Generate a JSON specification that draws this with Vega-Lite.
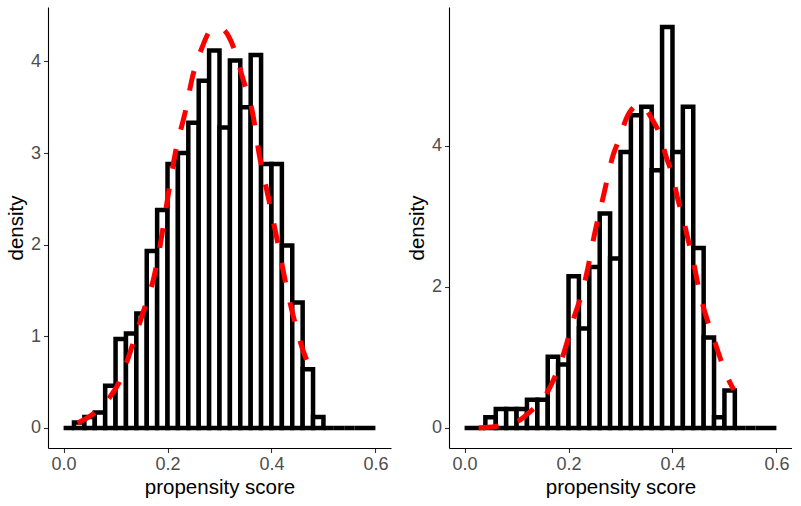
{
  "$schema": "https://vega.github.io/schema/vega-lite/v6.json",
  "padding": {"left": 6, "top": 7, "right": 0, "bottom": 0},
  "background": "white",
  "spacing": 16,
  "config": {
    "view": {"stroke": null},
    "font": "Liberation Sans",
    "axis": {
      "grid": false,
      "domainColor": "black",
      "domainWidth": 1.1,
      "tickColor": "#333333",
      "tickSize": 4.5,
      "tickWidth": 1.1,
      "labelFont": "Liberation Sans",
      "labelFontSize": 18,
      "labelColor": "#4D4D4D",
      "labelPadding": 3,
      "titleFont": "Liberation Sans",
      "titleFontSize": 20.5,
      "titleFontWeight": "normal",
      "titleColor": "black"
    }
  },
  "datasets": {
    "bars": [
      {"panel": "A", "lo": 0.00, "hi": 0.02, "density": 0},
      {"panel": "A", "lo": 0.02, "hi": 0.04, "density": 0.06},
      {"panel": "A", "lo": 0.04, "hi": 0.06, "density": 0.12},
      {"panel": "A", "lo": 0.06, "hi": 0.08, "density": 0.17},
      {"panel": "A", "lo": 0.08, "hi": 0.10, "density": 0.46},
      {"panel": "A", "lo": 0.10, "hi": 0.12, "density": 0.97},
      {"panel": "A", "lo": 0.12, "hi": 0.14, "density": 1.03},
      {"panel": "A", "lo": 0.14, "hi": 0.16, "density": 1.25},
      {"panel": "A", "lo": 0.16, "hi": 0.18, "density": 1.93},
      {"panel": "A", "lo": 0.18, "hi": 0.20, "density": 2.38},
      {"panel": "A", "lo": 0.20, "hi": 0.22, "density": 2.88},
      {"panel": "A", "lo": 0.22, "hi": 0.24, "density": 3.0},
      {"panel": "A", "lo": 0.24, "hi": 0.26, "density": 3.33},
      {"panel": "A", "lo": 0.26, "hi": 0.28, "density": 3.79},
      {"panel": "A", "lo": 0.28, "hi": 0.30, "density": 4.12},
      {"panel": "A", "lo": 0.30, "hi": 0.32, "density": 3.28},
      {"panel": "A", "lo": 0.32, "hi": 0.34, "density": 4.01},
      {"panel": "A", "lo": 0.34, "hi": 0.36, "density": 3.5},
      {"panel": "A", "lo": 0.36, "hi": 0.38, "density": 4.07},
      {"panel": "A", "lo": 0.38, "hi": 0.40, "density": 2.88},
      {"panel": "A", "lo": 0.40, "hi": 0.42, "density": 2.88},
      {"panel": "A", "lo": 0.42, "hi": 0.44, "density": 1.99},
      {"panel": "A", "lo": 0.44, "hi": 0.46, "density": 1.37},
      {"panel": "A", "lo": 0.46, "hi": 0.48, "density": 0.64},
      {"panel": "A", "lo": 0.48, "hi": 0.50, "density": 0.12},
      {"panel": "A", "lo": 0.50, "hi": 0.52, "density": 0},
      {"panel": "A", "lo": 0.52, "hi": 0.54, "density": 0},
      {"panel": "A", "lo": 0.54, "hi": 0.56, "density": 0},
      {"panel": "A", "lo": 0.56, "hi": 0.58, "density": 0},
      {"panel": "A", "lo": 0.58, "hi": 0.60, "density": 0},
      {"panel": "B", "lo": 0.00, "hi": 0.02, "density": 0},
      {"panel": "B", "lo": 0.02, "hi": 0.04, "density": 0},
      {"panel": "B", "lo": 0.04, "hi": 0.06, "density": 0.15},
      {"panel": "B", "lo": 0.06, "hi": 0.08, "density": 0.27},
      {"panel": "B", "lo": 0.08, "hi": 0.10, "density": 0.27},
      {"panel": "B", "lo": 0.10, "hi": 0.12, "density": 0.27},
      {"panel": "B", "lo": 0.12, "hi": 0.14, "density": 0.4},
      {"panel": "B", "lo": 0.14, "hi": 0.16, "density": 0.4},
      {"panel": "B", "lo": 0.16, "hi": 0.18, "density": 1.01},
      {"panel": "B", "lo": 0.18, "hi": 0.20, "density": 0.9},
      {"panel": "B", "lo": 0.20, "hi": 0.22, "density": 2.15},
      {"panel": "B", "lo": 0.22, "hi": 0.24, "density": 1.41},
      {"panel": "B", "lo": 0.24, "hi": 0.26, "density": 2.28},
      {"panel": "B", "lo": 0.26, "hi": 0.28, "density": 3.04},
      {"panel": "B", "lo": 0.28, "hi": 0.30, "density": 2.4},
      {"panel": "B", "lo": 0.30, "hi": 0.32, "density": 3.91},
      {"panel": "B", "lo": 0.32, "hi": 0.34, "density": 4.43},
      {"panel": "B", "lo": 0.34, "hi": 0.36, "density": 4.55},
      {"panel": "B", "lo": 0.36, "hi": 0.38, "density": 3.65},
      {"panel": "B", "lo": 0.38, "hi": 0.40, "density": 5.68},
      {"panel": "B", "lo": 0.40, "hi": 0.42, "density": 3.91},
      {"panel": "B", "lo": 0.42, "hi": 0.44, "density": 4.55},
      {"panel": "B", "lo": 0.44, "hi": 0.46, "density": 2.55},
      {"panel": "B", "lo": 0.46, "hi": 0.48, "density": 1.28},
      {"panel": "B", "lo": 0.48, "hi": 0.50, "density": 0.15},
      {"panel": "B", "lo": 0.50, "hi": 0.52, "density": 0.53},
      {"panel": "B", "lo": 0.52, "hi": 0.54, "density": 0},
      {"panel": "B", "lo": 0.54, "hi": 0.56, "density": 0},
      {"panel": "B", "lo": 0.56, "hi": 0.58, "density": 0},
      {"panel": "B", "lo": 0.58, "hi": 0.60, "density": 0}
    ],
    "curves": [
      {"panel": "A", "x": 0.027, "y": 0.055},
      {"panel": "A", "x": 0.056, "y": 0.15},
      {"panel": "A", "x": 0.088, "y": 0.33},
      {"panel": "A", "x": 0.107, "y": 0.5},
      {"panel": "A", "x": 0.121, "y": 0.71},
      {"panel": "A", "x": 0.139, "y": 1.02},
      {"panel": "A", "x": 0.158, "y": 1.35},
      {"panel": "A", "x": 0.174, "y": 1.65},
      {"panel": "A", "x": 0.186, "y": 2.0},
      {"panel": "A", "x": 0.2, "y": 2.5},
      {"panel": "A", "x": 0.216, "y": 3.03},
      {"panel": "A", "x": 0.235, "y": 3.47},
      {"panel": "A", "x": 0.248, "y": 3.83},
      {"panel": "A", "x": 0.267, "y": 4.16},
      {"panel": "A", "x": 0.283, "y": 4.34},
      {"panel": "A", "x": 0.299, "y": 4.37},
      {"panel": "A", "x": 0.318, "y": 4.27},
      {"panel": "A", "x": 0.331, "y": 4.09},
      {"panel": "A", "x": 0.344, "y": 3.83},
      {"panel": "A", "x": 0.364, "y": 3.43},
      {"panel": "A", "x": 0.376, "y": 3.0},
      {"panel": "A", "x": 0.395, "y": 2.49},
      {"panel": "A", "x": 0.411, "y": 2.05},
      {"panel": "A", "x": 0.43, "y": 1.51},
      {"panel": "A", "x": 0.449, "y": 1.07},
      {"panel": "A", "x": 0.465, "y": 0.78},
      {"panel": "A", "x": 0.477, "y": 0.64},
      {"panel": "B", "x": 0.027, "y": 0.0},
      {"panel": "B", "x": 0.059, "y": 0.02},
      {"panel": "B", "x": 0.101, "y": 0.09},
      {"panel": "B", "x": 0.126, "y": 0.23},
      {"panel": "B", "x": 0.158, "y": 0.49},
      {"panel": "B", "x": 0.174, "y": 0.73},
      {"panel": "B", "x": 0.19, "y": 1.04},
      {"panel": "B", "x": 0.212, "y": 1.6},
      {"panel": "B", "x": 0.225, "y": 1.89},
      {"panel": "B", "x": 0.235, "y": 2.19},
      {"panel": "B", "x": 0.251, "y": 2.78},
      {"panel": "B", "x": 0.267, "y": 3.28},
      {"panel": "B", "x": 0.286, "y": 3.87},
      {"panel": "B", "x": 0.298, "y": 4.1},
      {"panel": "B", "x": 0.311, "y": 4.38},
      {"panel": "B", "x": 0.33, "y": 4.57},
      {"panel": "B", "x": 0.336, "y": 4.59},
      {"panel": "B", "x": 0.362, "y": 4.36},
      {"panel": "B", "x": 0.375, "y": 4.17},
      {"panel": "B", "x": 0.388, "y": 3.84},
      {"panel": "B", "x": 0.4, "y": 3.58},
      {"panel": "B", "x": 0.41, "y": 3.25},
      {"panel": "B", "x": 0.42, "y": 2.99},
      {"panel": "B", "x": 0.429, "y": 2.7},
      {"panel": "B", "x": 0.439, "y": 2.4},
      {"panel": "B", "x": 0.452, "y": 1.93},
      {"panel": "B", "x": 0.464, "y": 1.6},
      {"panel": "B", "x": 0.477, "y": 1.32},
      {"panel": "B", "x": 0.49, "y": 1.03},
      {"panel": "B", "x": 0.501, "y": 0.8},
      {"panel": "B", "x": 0.518, "y": 0.54}
    ]
  },
  "hconcat": [
    {
      "width": 343,
      "height": 441,
      "layer": [
        {
          "data": {"name": "bars"},
          "transform": [{"filter": "datum.panel == 'A'"}],
          "mark": {"type": "bar", "fill": "white", "stroke": "black", "strokeWidth": 4.5, "strokeJoin": "miter"},
          "encoding": {
            "x": {"field": "lo", "type": "quantitative", "scale": {"domain": [-0.03, 0.63], "nice": false, "zero": false},
                  "axis": {"values": [0, 0.2, 0.4, 0.6], "format": ".1f", "title": "propensity score"}},
            "x2": {"field": "hi"},
            "y": {"field": "density", "type": "quantitative", "stack": null, "scale": {"domain": [-0.2185, 4.594], "nice": false, "zero": false},
                  "axis": {"values": [0, 1, 2, 3, 4], "format": "d", "title": "density"}},
            "y2": {"datum": 0}
          }
        },
        {
          "data": {"name": "curves"},
          "transform": [{"filter": "datum.panel == 'A'"}],
          "mark": {"type": "line", "color": "#FF0000", "strokeWidth": 5, "strokeDash": [20, 20], "strokeCap": "butt", "interpolate": "monotone"},
          "encoding": {
            "x": {"field": "x", "type": "quantitative"},
            "y": {"field": "y", "type": "quantitative"}
          }
        }
      ]
    },
    {
      "width": 343,
      "height": 441,
      "layer": [
        {
          "data": {"name": "bars"},
          "transform": [{"filter": "datum.panel == 'B'"}],
          "mark": {"type": "bar", "fill": "white", "stroke": "black", "strokeWidth": 4.5, "strokeJoin": "miter"},
          "encoding": {
            "x": {"field": "lo", "type": "quantitative", "scale": {"domain": [-0.03, 0.63], "nice": false, "zero": false},
                  "axis": {"values": [0, 0.2, 0.4, 0.6], "format": ".1f", "title": "propensity score"}},
            "x2": {"field": "hi"},
            "y": {"field": "density", "type": "quantitative", "stack": null, "scale": {"domain": [-0.284, 5.964], "nice": false, "zero": false},
                  "axis": {"values": [0, 2, 4], "format": "d", "title": "density"}},
            "y2": {"datum": 0}
          }
        },
        {
          "data": {"name": "curves"},
          "transform": [{"filter": "datum.panel == 'B'"}],
          "mark": {"type": "line", "color": "#FF0000", "strokeWidth": 5, "strokeDash": [20, 20], "strokeCap": "butt", "interpolate": "monotone"},
          "encoding": {
            "x": {"field": "x", "type": "quantitative"},
            "y": {"field": "y", "type": "quantitative"}
          }
        }
      ]
    }
  ]
}
